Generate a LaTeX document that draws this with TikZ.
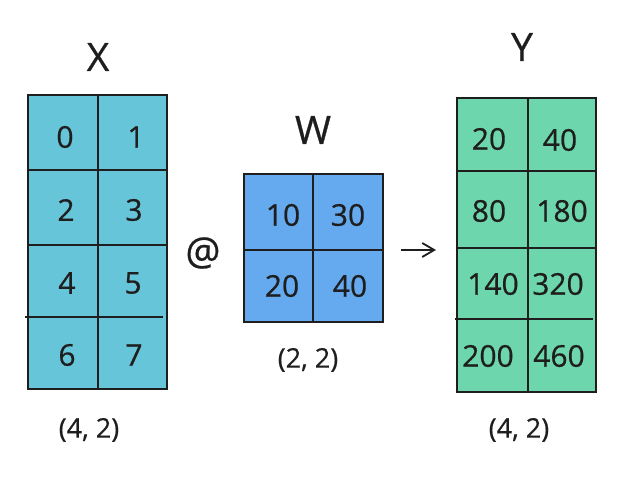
\documentclass[tikz,border=0pt]{standalone}
\usepackage{fontspec}
\setmainfont[FakeBold=0.6]{Open Sans}
\usetikzlibrary{positioning,arrows.meta}
\definecolor{ink}{HTML}{1E1E1E}
\definecolor{xfill}{HTML}{67C5DA}
\definecolor{wfill}{HTML}{65A9EF}
\definecolor{yfill}{HTML}{6DD6AD}
\tikzset{
  matbox/.style={draw=ink,line width=1.7pt},
  gridln/.style={draw=ink,line width=1.6pt},
  num/.style={inner sep=0pt,text=ink,font=\fontsize{30}{32}\selectfont},
  mtitle/.style={inner sep=0pt,text=ink,font=\fontsize{39}{41}\selectfont},
  dims/.style={inner sep=0pt,text=ink,font=\fontsize{27}{30}\selectfont},
  flow/.style={-{Straight Barb[length=12pt,width=14pt,line width=1.8pt]},draw=ink,line width=1.5pt}
}

\begin{document}
\begin{tikzpicture}[x=1pt,y=-1pt]
\useasboundingbox (0,0) rectangle (630,478);

% X (4x2)
\fill[xfill] (28,95) rectangle (167,389);
\draw[matbox] (28,95) rectangle (167,389);
\draw[gridln] (98,95)--(98,389);
\draw[gridln] (28,170)--(167,170);
\draw[gridln] (28,245)--(167,245);
\draw[gridln] (25,317)--(163,317);
\node[mtitle] (Xt) at (98,57) {X};
\node[num] (x0) at (65,137) {0};
\node[num] (x1) at (136,137) {1};
\node[num] (x2) at (66,210) {2};
\node[num] (x3) at (134,210) {3};
\node[num] (x4) at (67,283) {4};
\node[num] (x5) at (133,283) {5};
\node[num] (x6) at (67,355) {6};
\node[num] (x7) at (134,355) {7};
\node[dims] (Xd) at (89,430) {(4, 2)};

\node[mtitle] (at) at (203,253) {@};

% W (2x2)
\fill[wfill] (244,174) rectangle (383,322);
\draw[matbox] (244,174) rectangle (383,322);
\draw[gridln] (313,174)--(313,322);
\draw[gridln] (244,250)--(383,250);
\node[mtitle] (Wt) at (313,130) {W};
\node[num] (w10) at (283,215) {10};
\node[num] (w30) at (348,215) {30};
\node[num] (w20) at (282,286) {20};
\node[num] (w40) at (350,286) {40};
\node[dims] (Wd) at (308,360) {(2, 2)};

% arrow
\coordinate (a0) at (401,250);
\coordinate (a1) at (436,250);
\draw[flow] (a0)--(a1);

% Y (4x2)
\fill[yfill] (457,98) rectangle (596,392);
\draw[matbox] (457,98) rectangle (596,392);
\draw[gridln] (528,98)--(528,392);
\draw[gridln] (457,171)--(596,171);
\draw[gridln] (457,248)--(597,248);
\draw[gridln] (455,319)--(593,319);
\node[mtitle] (Yt) at (522,47) {Y};
\node[num] (y20) at (489,139) {20};
\node[num] (y40) at (560,140) {40};
\node[num] (y80) at (489,211) {80};
\node[num] (y180) at (562,211) {180};
\node[num] (y140) at (493,284) {140};
\node[num] (y320) at (558,284) {320};
\node[num] (y200) at (488,356) {200};
\node[num] (y460) at (559,356) {460};
\node[dims] (Yd) at (519,430) {(4, 2)};
\end{tikzpicture}
\end{document}
